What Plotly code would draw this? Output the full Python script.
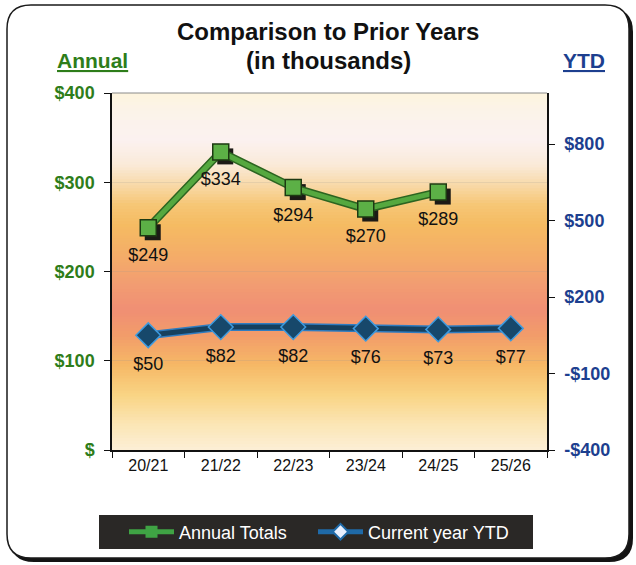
import plotly.graph_objects as go

# ---- data ----
categories = ["20/21", "21/22", "22/23", "23/24", "24/25", "25/26"]
annual_totals = [249, 334, 294, 270, 289, None]
current_ytd = [50, 82, 82, 76, 73, 77]
left_tickvals = [0, 100, 200, 300, 400]
left_ticktext = ["$", "$100", "$200", "$300", "$400"]
right_tickvals = [-400, -100, 200, 500, 800]
right_ticktext = ["-$400", "-$100", "$200", "$500", "$800"]

# ---- layout geometry (pixels) ----
W, H = 636, 565
L, R, T, B = 112, 547, 93, 450
PW, PH = R - L, B - T

def px(x):
    return (x - L) / PW

def py(y):
    return (B - y) / PH

FONT = "Liberation Sans, Arial, sans-serif"
GREEN = "#2e7d1a"
NAVY = "#1d3f8f"

fig = go.Figure()

# shadow of annual markers (base subplot with slightly shifted ranges, drawn first)
fig.add_trace(go.Scatter(
    x=categories, y=annual_totals, mode="markers", xaxis="x", yaxis="y",
    marker=dict(symbol="square", size=16, color="#1c1a16"),
    showlegend=False, hoverinfo="skip"))
# annual edge line
fig.add_trace(go.Scatter(
    x=categories, y=annual_totals, mode="lines", xaxis="x2", yaxis="y3",
    line=dict(color="#2c6420", width=8), showlegend=False, hoverinfo="skip"))
# annual main
fig.add_trace(go.Scatter(
    x=categories, y=annual_totals, mode="lines+markers", xaxis="x2", yaxis="y3",
    line=dict(color="#55a83f", width=5),
    marker=dict(symbol="square", size=16, color="#5cb046",
                line=dict(color="#1d3a12", width=1.5)),
    name="Annual Totals", showlegend=False))
# annual labels
fig.add_trace(go.Scatter(
    x=categories, y=annual_totals, mode="markers+text", xaxis="x2", yaxis="y3",
    marker=dict(size=30, color="rgba(0,0,0,0)"),
    texttemplate="$%{y:.0f}", textposition="bottom center",
    textfont=dict(family=FONT, size=18, color="#111111"),
    showlegend=False, hoverinfo="skip"))

# ytd edge line
fig.add_trace(go.Scatter(
    x=categories, y=current_ytd, mode="lines", xaxis="x2", yaxis="y2",
    line=dict(color="#2f7cc0", width=8), showlegend=False, hoverinfo="skip"))
# ytd main
fig.add_trace(go.Scatter(
    x=categories, y=current_ytd, mode="lines+markers", xaxis="x2", yaxis="y2",
    line=dict(color="#16405e", width=5),
    marker=dict(symbol="diamond", size=19, color="#17486b",
                line=dict(color="#3d9be0", width=1.5)),
    name="Current year YTD", showlegend=False))
# ytd labels
fig.add_trace(go.Scatter(
    x=categories, y=current_ytd, mode="markers+text", xaxis="x2", yaxis="y2",
    marker=dict(size=32, color="rgba(0,0,0,0)"),
    texttemplate="$%{y:.0f}", textposition="bottom center",
    textfont=dict(family=FONT, size=18, color="#111111"),
    showlegend=False, hoverinfo="skip"))

# legend-only entries (two separate legends for exact placement)
fig.add_trace(go.Scatter(
    x=[None], y=[None], mode="lines+markers", name="Annual Totals",
    xaxis="x2", yaxis="y3", legend="legend",
    line=dict(color="#3fa344", width=5),
    marker=dict(symbol="square", size=7, color="#3fa344")))
fig.add_trace(go.Scatter(
    x=[None], y=[None], mode="lines+markers", name="Current year YTD",
    xaxis="x2", yaxis="y2", legend="legend2",
    line=dict(color="#1f6aa8", width=5),
    marker=dict(symbol="diamond", size=8, color="#e8f0ff",
                line=dict(color="#1f6aa8", width=1.5))))

# ---- shapes ----
shapes = []

def rounded(x0, y0, x1, y1, r):
    rx, ry = r / PW, r / PH
    X0, X1 = px(x0), px(x1)
    Yt, Yb = py(y0), py(y1)
    return (f"M {X0+rx},{Yt} L {X1-rx},{Yt} Q {X1},{Yt} {X1},{Yt-ry} "
            f"L {X1},{Yb+ry} Q {X1},{Yb} {X1-rx},{Yb} "
            f"L {X0+rx},{Yb} Q {X0},{Yb} {X0},{Yb+ry} "
            f"L {X0},{Yt-ry} Q {X0},{Yt} {X0+rx},{Yt} Z")

# frame shadow and frame
shapes.append(dict(type="path", xref="paper", yref="paper", layer="below",
                   path=rounded(10, 8, 633, 562, 24),
                   fillcolor="#141414", line=dict(width=0)))
shapes.append(dict(type="path", xref="paper", yref="paper", layer="below",
                   path=rounded(7, 5, 629, 558, 24),
                   fillcolor="#ffffff", line=dict(color="#1a1a1a", width=1.5)))

# legend box
shapes.append(dict(type="rect", xref="paper", yref="paper", layer="below",
                   x0=px(99), x1=px(533), y0=py(549), y1=py(515),
                   fillcolor="#2a2826", line=dict(width=0)))

# plot background gradient
stops = [
    (0.000, "#fcefd6"), (0.070, "#fbe6b6"), (0.154, "#f9d484"),
    (0.238, "#f6b866"), (0.322, "#f29c6a"), (0.392, "#f08f74"),
    (0.462, "#f29c72"), (0.546, "#f4ad68"), (0.630, "#f5bb62"),
    (0.686, "#f6c675"), (0.742, "#f8d9a8"), (0.798, "#faead8"),
    (0.868, "#fbf1f0"), (0.940, "#fbf3ea"), (1.000, "#fdf4de"),
]

def hex2rgb(h):
    h = h.lstrip("#")
    return tuple(int(h[i:i + 2], 16) for i in (0, 2, 4))

def color_at(t):
    for (a, ca), (b, cb) in zip(stops[:-1], stops[1:]):
        if a <= t <= b:
            f = (t - a) / (b - a) if b > a else 0
            c1, c2 = hex2rgb(ca), hex2rgb(cb)
            return "rgb({},{},{})".format(*[round(c1[i] + (c2[i] - c1[i]) * f) for i in range(3)])
    return stops[-1][1]

N = 120
for i in range(N):
    y0 = i / N
    y1 = min(1.0, (i + 1) / N + 0.004)
    shapes.append(dict(type="rect", xref="paper", yref="paper", layer="below",
                       x0=0, x1=1, y0=y0, y1=y1,
                       fillcolor=color_at((i + 0.5) / N), line=dict(width=0)))

# top border of plot area
shapes.append(dict(type="line", xref="paper", yref="paper", layer="below",
                   x0=0, x1=1, y0=1, y1=1, line=dict(color="#8a8a8a", width=1)))

# ---- annotations ----
def ann(text, x, y, size, color):
    return dict(text=text, x=px(x), y=py(y), xref="paper", yref="paper",
                xanchor="center", yanchor="middle", showarrow=False,
                font=dict(family=FONT, size=size, color=color))

annotations = [
    ann("<b>Comparison to Prior Years</b>", 328, 32, 24, "#111111"),
    ann("<b>(in thousands)</b>", 328, 60, 24, "#111111"),
    ann("<b><u>Annual</u></b>", 92, 60, 21, GREEN),
    ann("<b><u>YTD</u></b>", 584, 60, 21, NAVY),
]

dx = 4.5 / (PW / 6)
dy = 4.5 * 400 / PH

legend_common = dict(orientation="h", xanchor="left", yanchor="middle",
                     y=py(532), bgcolor="rgba(0,0,0,0)",
                     font=dict(family=FONT, size=18, color="#ffffff"),
                     itemsizing="constant", itemwidth=45)

fig.update_layout(
    width=W, height=H,
    margin=dict(l=L, r=W - R, t=T, b=H - B, pad=0),
    paper_bgcolor="#ffffff", plot_bgcolor="rgba(0,0,0,0)",
    font=dict(family=FONT),
    shapes=shapes, annotations=annotations,
    showlegend=True,
    legend=dict(x=px(124), **legend_common),
    legend2=dict(x=px(313), **legend_common),
    # base (hidden) axes for the marker shadow, shifted by a few pixels
    xaxis=dict(type="category", range=[-0.5 - dx, 5.5 - dx], visible=False),
    yaxis=dict(range=[0 + dy, 400 + dy], visible=False),
    # visible category axis
    xaxis2=dict(type="category", range=[-0.5, 5.5], tickson="boundaries",
                overlaying="x", anchor="y3",
                ticks="outside", ticklen=6, tickcolor="#111111",
                showline=True, linecolor="#111111", linewidth=1.5,
                showgrid=False, zeroline=False,
                tickfont=dict(family=FONT, size=16, color="#111111")),
    yaxis3=dict(range=[0, 400], tickvals=left_tickvals, ticktext=left_ticktext,
                overlaying="y", side="left", anchor="x2",
                ticks="outside", ticklen=6, tickcolor="#111111",
                ticklabelstandoff=6,
                showline=True, linecolor="#111111", linewidth=1.5,
                showgrid=True, gridcolor="rgba(150,150,150,0.18)", zeroline=False,
                tickfont=dict(family=FONT, size=18, color=GREEN, weight="bold")),
    yaxis2=dict(range=[-400, 1000], tickvals=right_tickvals, ticktext=right_ticktext,
                overlaying="y", side="right", anchor="x2",
                ticks="outside", ticklen=6, tickcolor="#111111",
                ticklabelstandoff=6,
                showline=True, linecolor="#111111", linewidth=1.5,
                showgrid=False, zeroline=False,
                tickfont=dict(family=FONT, size=18, color=NAVY, weight="bold")),
)

fig.write_html("out.html", config={"displayModeBar": False},
               post_script="document.body.style.margin='0';document.body.style.padding='0';")
